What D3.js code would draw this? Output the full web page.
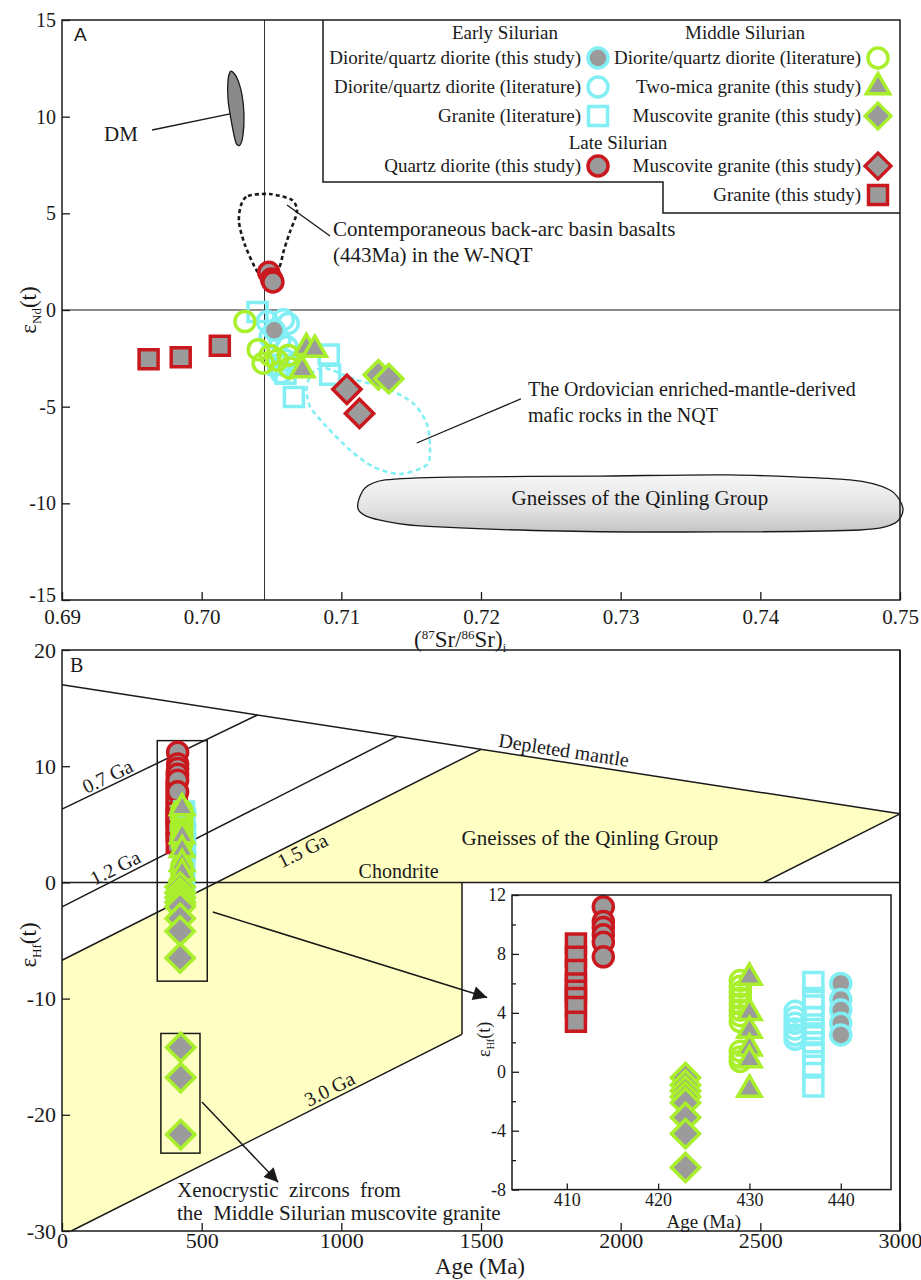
<!DOCTYPE html>
<html>
<head>
<meta charset="utf-8">
<script src="https://cdn.jsdelivr.net/npm/d3@7/dist/d3.min.js"></script>
<style>
  html, body { margin: 0; padding: 0; background: #fff; }
  svg { display: block; }
  svg text { font-family: "Liberation Serif", "Times New Roman", Times, serif; }
  svg text.sans { font-family: "Liberation Sans", Arial, Helvetica, sans-serif; }
</style>
</head>
<body>
<svg id="chart" width="921" height="1280" xmlns="http://www.w3.org/2000/svg"></svg>
<script>
// ===================== Panel A: (87Sr/86Sr)i vs εNd(t) =====================
const srTicks = [0.69, 0.70, 0.71, 0.72, 0.73, 0.74, 0.75];
const ndTicks = [15, 10, 5, 0, -5, -10, -15];
const bulkEarthSr = 0.7045;

// Early Silurian
const earlyDioriteThisA = [[0.7052, -1.05]];
const earlyDioriteLitA = [[0.7047, -0.6], [0.70585, -0.5], [0.7062, -0.7], [0.7049, -1.4], [0.7056, -1.55], [0.7061, -1.9], [0.7060, -2.6], [0.7057, -3.25]];
const earlyGraniteLitA = [[0.7040, -0.1], [0.7091, -2.3], [0.7092, -3.35], [0.7066, -4.5], [0.7060, -3.3], [0.7055, -2.85]];
// Middle Silurian
const midDioriteLitA = [[0.7031, -0.6], [0.70405, -2.05], [0.7044, -2.75], [0.7049, -2.35], [0.7054, -2.6], [0.7062, -2.35], [0.7063, -3.0]];
const midTwoMicaA = [[0.7075, -1.95], [0.7081, -2.05], [0.7072, -3.1]];
const midMuscoviteA = [[0.71265, -3.35], [0.7134, -3.55]];
// Late Silurian
const lateDioriteA = [[0.7048, 1.95], [0.7050, 1.6], [0.7051, 1.45]];
const lateMuscoviteA = [[0.7104, -4.1], [0.7113, -5.35]];
const lateGraniteA = [[0.6962, -2.55], [0.6985, -2.45], [0.7013, -1.85]];

// reference fields
const dmFieldA = [[0.70210, 12.36], [0.70253, 12.0], [0.70289, 11.12], [0.70303, 10.09], [0.70296, 9.05], [0.70274, 8.53], [0.70246, 8.64], [0.70217, 9.57], [0.70189, 10.86], [0.70189, 11.90]];
const backArcBasaltA = [[0.70282, 5.43], [0.70332, 5.90], [0.70489, 6.0], [0.70647, 5.69], [0.70682, 5.07], [0.70632, 4.04], [0.70589, 3.10], [0.70554, 2.17], [0.70475, 1.55], [0.70396, 2.02], [0.70310, 3.36], [0.70267, 4.55]];
const ordovicianMaficA = [[0.70895, -3.02], [0.71110, -3.62], [0.71325, -4.05], [0.71515, -4.83], [0.71611, -5.86], [0.71635, -7.07], [0.71611, -8.02], [0.71420, -8.48], [0.71229, -8.11], [0.71062, -7.24], [0.70895, -6.04], [0.70776, -5.00], [0.70752, -3.97], [0.70799, -3.19]];
const qinlingGneissA = [[0.71119, -9.98], [0.71169, -9.21], [0.71313, -8.79], [0.71778, -8.64], [0.72852, -8.59], [0.73783, -8.53], [0.74642, -8.79], [0.74928, -9.31], [0.75021, -10.24], [0.74964, -11.02], [0.74714, -11.38], [0.73711, -11.48], [0.72566, -11.43], [0.71563, -11.17], [0.71241, -10.81], [0.71134, -10.45]];

// ===================== Panel B: Age vs εHf(t) =====================
const ageTicks = [0, 500, 1000, 1500, 2000, 2500, 3000];
const hfTicks = [20, 10, 0, -10, -20, -30];
const depletedMantle = [[0, 17], [3000, 5.9]];
const crust07 = [[0, 6.3], [700, 14.41]];
const crust12 = [[0, -2.1], [1200, 12.56]];
const crust15 = [[0, -6.7], [1500, 11.45]];
const crust30 = [[33, -30], [3000, 5.9]];
const qinlingGneissB = [[0, -6.7], [1500, 11.45], [3000, 5.9], [33, -30], [0, -30]];
const zirconBox = [[341, 12.2], [520, -8.5]];
const xenoBox = [[354, -13.0], [494, -23.3]];
const insetLeftAge = 1432;

// zircon εHf(t) by group: crystallisation age (Ma) and values
const lateGraniteAge = 411;
const lateGraniteHf = [8.7, 7.8, 6.9, 6.0, 5.5, 5.0, 4.4, 3.4];
const lateDioriteAge = 414;
const lateDioriteHf = [11.2, 10.2, 9.8, 9.3, 8.8, 7.8];
const midMuscoviteAge = 423;
const midMuscoviteHf = [-0.4, -0.9, -1.3, -1.7, -2.1, -3.1, -4.2, -6.5];
const midDioriteLitAge = 429;
const midDioriteLitHf = [6.2, 5.8, 5.4, 5.0, 4.6, 4.2, 3.8, 3.4, 1.4, 1.0, 0.7];
const midTwoMicaAge = 430;
const midTwoMicaHf = [6.4, 4.0, 2.8, 1.6, 0.8, -1.2];
const earlyDioriteLitAge = 435;
const earlyDioriteLitHf = [4.1, 3.7, 3.3, 2.9, 2.5, 2.2];
const earlyGraniteLitAge = 437;
const earlyGraniteLitHf = [6.1, 5.0, 4.5, 3.7, 2.9, 2.6, 2.0, 1.2, 0.4, -1.0];
const earlyDioriteThisAge = 440;
const earlyDioriteThisHf = [6.0, 4.9, 4.2, 3.3, 2.5];
const xenocrystAge = 425;
const xenocrystHf = [-14.2, -16.8, -21.7];

// inset axes
const insetAgeTicks = [410, 420, 430, 440];
const insetHfTicks = [12, 8, 4, 0, -4, -8];

// ===================== drawing =====================
const INK = "#1a1a1a";
const COL = { cyan: "#82eff5", green: "#a9ef2b", red: "#c9191f", gray: "#9b9b9b", gneiss: "#ffffc4" };

const svg = d3.select("#chart");
const defs = svg.append("defs");
const grad = defs.append("linearGradient").attr("id", "gneissShade").attr("x1", 0).attr("y1", 0).attr("x2", 0).attr("y2", 1);
grad.append("stop").attr("offset", "0%").attr("stop-color", "#f7f7f7");
grad.append("stop").attr("offset", "60%").attr("stop-color", "#e2e2e2");
grad.append("stop").attr("offset", "100%").attr("stop-color", "#c4c4c4");
defs.append("marker").attr("id", "arrowHead").attr("viewBox", "0 0 10 10")
  .attr("refX", 10).attr("refY", 5).attr("markerWidth", 19).attr("markerHeight", 14)
  .attr("markerUnits", "userSpaceOnUse").attr("orient", "auto")
  .append("path").attr("d", "M0,0L10,5L0,10z").attr("fill", INK);

const SYM = {
  circle: d3.symbol().type(d3.symbolCircle).size(Math.PI * 100)(),
  square: d3.symbol().type(d3.symbolSquare).size(361)(),
  diamond: d3.symbol().type(d3.symbolSquare).size(400)(),
  triangle: d3.symbol().type(d3.symbolTriangle).size(235)()
};
function plotSymbols(g, pts, sx, sy, shape, stroke, fill) {
  g.append("g").selectAll("path").data(pts).join("path")
    .attr("d", SYM[shape])
    .attr("transform", d => `translate(${sx(d[0])},${sy(d[1])})` + (shape === "diamond" ? " rotate(45)" : ""))
    .attr("fill", fill).attr("stroke", stroke).attr("stroke-width", 3.5);
}
function styleAxis(g, size) {
  g.attr("font-family", null).attr("font-size", size);
  g.select(".domain").remove();
  g.selectAll(".tick line").attr("stroke", INK).attr("stroke-width", 1.3);
  g.selectAll(".tick text").attr("fill", INK).style("font-size", size + "px");
}
function txt(g, x, y, s, size, anchor, cls) {
  return g.append("text").attr("class", cls || null).attr("x", x).attr("y", y)
    .attr("font-size", size).attr("text-anchor", anchor || "start").attr("fill", INK)
    .style("white-space", "pre").text(s);
}

// ---------- Panel A ----------
const xA = d3.scaleLinear().domain([0.69, 0.75]).range([62, 900]);
const yA = d3.scaleLinear().domain([-15, 15]).range([600, 20]);
const gA = svg.append("g");
const closedA = d3.line().x(d => xA(d[0])).y(d => yA(d[1])).curve(d3.curveCardinalClosed.tension(0.2));

gA.append("line").attr("x1", xA(0.69)).attr("x2", xA(0.75)).attr("y1", yA(0)).attr("y2", yA(0)).attr("stroke", INK).attr("stroke-width", 1.2);
gA.append("line").attr("x1", xA(bulkEarthSr)).attr("x2", xA(bulkEarthSr)).attr("y1", yA(15)).attr("y2", yA(-15)).attr("stroke", "#333").attr("stroke-width", 1);

gA.append("path").attr("d", closedA(qinlingGneissA)).attr("fill", "url(#gneissShade)").attr("stroke", INK).attr("stroke-width", 1.3);
gA.append("path").attr("d", closedA(dmFieldA)).attr("fill", "#8a8a8a").attr("stroke", INK).attr("stroke-width", 1.3);
gA.append("path").attr("d", closedA(backArcBasaltA)).attr("fill", "none").attr("stroke", INK).attr("stroke-width", 2.6).attr("stroke-dasharray", "4,3");
gA.append("path").attr("d", closedA(ordovicianMaficA)).attr("fill", "none").attr("stroke", COL.cyan).attr("stroke-width", 2.6).attr("stroke-dasharray", "5,3.5");

// leader lines and field labels
const leader = (g, a, b, sx, sy) => g.append("line").attr("x1", sx(a[0])).attr("y1", sy(a[1])).attr("x2", sx(b[0])).attr("y2", sy(b[1])).attr("stroke", INK).attr("stroke-width", 1.3);
leader(gA, [0.69645, 9.31], [0.70203, 10.14], xA, yA);
leader(gA, [0.70611, 5.43], [0.70919, 3.83], xA, yA);
leader(gA, [0.71540, -6.88], [0.72285, -4.60], xA, yA);
txt(gA, 104, 141, "DM", 21);
txt(gA, 333, 236, "Contemporaneous back-arc basin basalts", 21);
txt(gA, 333, 262, "(443Ma) in the W-NQT", 21);
txt(gA, 528, 396, "The Ordovician enriched-mantle-derived", 20);
txt(gA, 528, 422, "mafic rocks in the NQT", 20);
txt(gA, xA(0.73138), 505, "Gneisses of the Qinling Group", 21, "middle");

// data points, A
plotSymbols(gA, earlyGraniteLitA, xA, yA, "square", COL.cyan, "none");
plotSymbols(gA, earlyDioriteLitA, xA, yA, "circle", COL.cyan, "none");
plotSymbols(gA, midDioriteLitA, xA, yA, "circle", COL.green, "none");
plotSymbols(gA, earlyDioriteThisA, xA, yA, "circle", COL.cyan, COL.gray);
plotSymbols(gA, midTwoMicaA, xA, yA, "triangle", COL.green, COL.gray);
plotSymbols(gA, midMuscoviteA, xA, yA, "diamond", COL.green, COL.gray);
plotSymbols(gA, lateMuscoviteA, xA, yA, "diamond", COL.red, COL.gray);
plotSymbols(gA, lateGraniteA, xA, yA, "square", COL.red, COL.gray);
plotSymbols(gA, lateDioriteA, xA, yA, "circle", COL.red, COL.gray);

// legend (L-shaped box)
const gL = svg.append("g");
gL.append("path").attr("d", "M323,20V182H663V213H900").attr("fill", "none").attr("stroke", INK).attr("stroke-width", 1.5);
txt(gL, 505, 39, "Early Silurian", 19, "middle");
txt(gL, 745, 39, "Middle Silurian", 19, "middle");
txt(gL, 618, 149, "Late Silurian", 19, "middle");
const legendRows = [
  { x: 598, y: 58, label: "Diorite/quartz diorite (this study)", shape: "circle", stroke: COL.cyan, fill: COL.gray },
  { x: 598, y: 87, label: "Diorite/quartz diorite (literature)", shape: "circle", stroke: COL.cyan, fill: "none" },
  { x: 598, y: 116, label: "Granite (literature)", shape: "square", stroke: COL.cyan, fill: "none" },
  { x: 598, y: 166, label: "Quartz diorite (this study)", shape: "circle", stroke: COL.red, fill: COL.gray },
  { x: 878, y: 58, label: "Diorite/quartz diorite (literature)", shape: "circle", stroke: COL.green, fill: "none" },
  { x: 878, y: 87, label: "Two-mica granite (this study)", shape: "triangle", stroke: COL.green, fill: COL.gray },
  { x: 878, y: 116, label: "Muscovite granite (this study)", shape: "diamond", stroke: COL.green, fill: COL.gray },
  { x: 878, y: 166, label: "Muscovite granite (this study)", shape: "diamond", stroke: COL.red, fill: COL.gray },
  { x: 878, y: 195, label: "Granite (this study)", shape: "square", stroke: COL.red, fill: COL.gray }
];
legendRows.forEach(r => {
  txt(gL, r.x - 17, r.y + 6, r.label, 19, "end");
  gL.append("path").attr("d", SYM[r.shape])
    .attr("transform", `translate(${r.x},${r.y})` + (r.shape === "diamond" ? " rotate(45) scale(0.92)" : ""))
    .attr("fill", r.fill).attr("stroke", r.stroke).attr("stroke-width", 3.5);
});

// axes, A
gA.append("g").attr("transform", "translate(0,600)")
  .call(d3.axisBottom(xA).tickValues(srTicks).tickFormat(d3.format(".2f")).tickSize(-8).tickPadding(9))
  .call(styleAxis, 21);
const yAxisA = gA.append("g").attr("transform", "translate(62,0)")
  .call(d3.axisLeft(yA).tickValues(ndTicks).tickFormat(d => String(d)).tickSize(-8).tickPadding(6))
  .call(styleAxis, 20);
// lowest label sits just above the corner so it clears the x-axis labels
yAxisA.selectAll(".tick text").filter(d => d === -15).attr("dy", "0.05em");
gA.append("rect").attr("x", 62).attr("y", 20).attr("width", 838).attr("height", 580).attr("fill", "none").attr("stroke", INK).attr("stroke-width", 1.5);
txt(gA, 74, 41, "A", 19, "start", "sans");

const tA = gA.append("text").attr("x", 460).attr("y", 647).attr("text-anchor", "middle").attr("font-size", 23).attr("fill", INK);
tA.append("tspan").text("(");
tA.append("tspan").attr("font-size", 13).attr("dy", -8).text("87");
tA.append("tspan").attr("dy", 8).text("Sr/");
tA.append("tspan").attr("font-size", 13).attr("dy", -8).text("86");
tA.append("tspan").attr("dy", 8).text("Sr)");
tA.append("tspan").attr("font-size", 12).attr("dy", 5).text("i");

const yLabA = gA.append("text").attr("transform", "translate(36,310) rotate(-90)").attr("text-anchor", "middle").attr("font-size", 23).attr("fill", INK);
yLabA.append("tspan").text("ε");
yLabA.append("tspan").attr("font-size", 13).attr("dy", 5).text("Nd");
yLabA.append("tspan").attr("dy", -5).text("(t)");

// ---------- Panel B ----------
const xB = d3.scaleLinear().domain([0, 3000]).range([62, 900]);
const yB = d3.scaleLinear().domain([-30, 20]).range([1231, 650]);
const gB = svg.append("g");
const lineB = d3.line().x(d => xB(d[0])).y(d => yB(d[1]));

gB.append("path").attr("d", lineB(qinlingGneissB) + "Z").attr("fill", COL.gneiss).attr("stroke", "none");
[depletedMantle, crust07, crust12, crust15, crust30].forEach(seg =>
  gB.append("path").attr("d", lineB(seg)).attr("fill", "none").attr("stroke", INK).attr("stroke-width", 1.5));

// inset background covers the field beneath it
const crust30At = d3.scaleLinear().domain(crust30.map(d => d[0])).range(crust30.map(d => d[1]));
gB.append("rect").attr("x", xB(insetLeftAge)).attr("y", yB(0)).attr("width", 902 - xB(insetLeftAge)).attr("height", 1196 - yB(0)).attr("fill", "#fff");
gB.append("path").attr("d", lineB([[insetLeftAge, 0], [insetLeftAge, crust30At(insetLeftAge)]])).attr("stroke", INK).attr("stroke-width", 1.5);
gB.append("line").attr("x1", xB(0)).attr("x2", xB(3000)).attr("y1", yB(0)).attr("y2", yB(0)).attr("stroke", INK).attr("stroke-width", 1.5);

function labelOnLine(seg, age, s, off, size) {
  const v = d3.scaleLinear().domain([seg[0][0], seg[1][0]]).range([seg[0][1], seg[1][1]])(age);
  const ang = Math.atan2(yB(seg[1][1]) - yB(seg[0][1]), xB(seg[1][0]) - xB(seg[0][0])) * 180 / Math.PI;
  gB.append("text").attr("transform", `translate(${xB(age)},${yB(v)}) rotate(${ang})`).attr("y", off)
    .attr("text-anchor", "middle").attr("font-size", size).attr("fill", INK).text(s);
}
labelOnLine(crust07, 178, "0.7 Ga", -3, 20);
labelOnLine(crust12, 208, "1.2 Ga", -4, 20);
labelOnLine(crust15, 845, "1.5 Ga", 17, 20);
labelOnLine(crust30, 975, "3.0 Ga", -4, 20);
labelOnLine(depletedMantle, 1790, "Depleted mantle", -5, 20);
txt(gB, xB(1205), yB(0.35), "Chondrite", 20, "middle");
txt(gB, xB(1890), 845, "Gneisses of the Qinling Group", 21, "middle");

// grouping boxes
[zirconBox, xenoBox].forEach(b => gB.append("rect")
  .attr("x", xB(b[0][0])).attr("y", yB(b[0][1]))
  .attr("width", xB(b[1][0]) - xB(b[0][0])).attr("height", yB(b[1][1]) - yB(b[0][1]))
  .attr("fill", "none").attr("stroke", INK).attr("stroke-width", 1.5));

const pairs = (age, vals) => vals.map(v => [age, v]);
plotSymbols(gB, pairs(lateGraniteAge, lateGraniteHf), xB, yB, "square", COL.red, COL.gray);
plotSymbols(gB, pairs(lateDioriteAge, lateDioriteHf), xB, yB, "circle", COL.red, COL.gray);
plotSymbols(gB, pairs(earlyDioriteLitAge, earlyDioriteLitHf), xB, yB, "circle", COL.cyan, "none");
plotSymbols(gB, pairs(earlyGraniteLitAge, earlyGraniteLitHf), xB, yB, "square", COL.cyan, "none");
plotSymbols(gB, pairs(earlyDioriteThisAge, earlyDioriteThisHf), xB, yB, "circle", COL.cyan, COL.gray);
plotSymbols(gB, pairs(midDioriteLitAge, midDioriteLitHf), xB, yB, "circle", COL.green, "none");
plotSymbols(gB, pairs(midTwoMicaAge, midTwoMicaHf), xB, yB, "triangle", COL.green, COL.gray);
plotSymbols(gB, pairs(midMuscoviteAge, midMuscoviteHf), xB, yB, "diamond", COL.green, COL.gray);
plotSymbols(gB, pairs(xenocrystAge, xenocrystHf), xB, yB, "diamond", COL.green, COL.gray);

// arrows
const arrow = (a, b) => gB.append("line").attr("x1", xB(a[0])).attr("y1", yB(a[1])).attr("x2", xB(b[0])).attr("y2", yB(b[1]))
  .attr("stroke", INK).attr("stroke-width", 1.5).attr("marker-end", "url(#arrowHead)");
arrow([540, -2.55], [1522, -9.9]);
arrow([501, -18.9], [774, -25.8]);
txt(gB, 177, 1197, "Xenocrystic  zircons  from", 21);
txt(gB, 177, 1220, "the  Middle Silurian muscovite granite", 21);

// axes, B
gB.append("g").attr("transform", "translate(0,1231)")
  .call(d3.axisBottom(xB).tickValues(ageTicks).tickFormat(d => String(d)).tickSize(-8).tickPadding(1))
  .call(styleAxis, 22);
gB.append("g").attr("transform", "translate(62,0)")
  .call(d3.axisLeft(yB).tickValues(hfTicks).tickFormat(d => String(d)).tickSize(-8).tickPadding(6))
  .call(styleAxis, 22);
gB.append("rect").attr("x", 62).attr("y", 650).attr("width", 838).attr("height", 581).attr("fill", "none").attr("stroke", INK).attr("stroke-width", 1.5);
txt(gB, 70, 672, "B", 20);
txt(gB, 480, 1274, "Age (Ma)", 23, "middle");
const yLabB = gB.append("text").attr("transform", "translate(36,945) rotate(-90)").attr("text-anchor", "middle").attr("font-size", 23).attr("fill", INK);
yLabB.append("tspan").text("ε");
yLabB.append("tspan").attr("font-size", 13).attr("dy", 5).text("Hf");
yLabB.append("tspan").attr("dy", -5).text("(t)");

// ---------- Inset: εHf(t) vs crystallisation age ----------
const xI = d3.scaleLinear().domain([404, 445.5]).range([512, 891]);
const yI = d3.scaleLinear().domain([-8, 12]).range([1189.6, 895]);
const gI = svg.append("g");
plotSymbols(gI, pairs(lateGraniteAge, lateGraniteHf), xI, yI, "square", COL.red, COL.gray);
plotSymbols(gI, pairs(lateDioriteAge, lateDioriteHf), xI, yI, "circle", COL.red, COL.gray);
plotSymbols(gI, pairs(earlyDioriteLitAge, earlyDioriteLitHf), xI, yI, "circle", COL.cyan, "none");
plotSymbols(gI, pairs(earlyGraniteLitAge, earlyGraniteLitHf), xI, yI, "square", COL.cyan, "none");
plotSymbols(gI, pairs(earlyDioriteThisAge, earlyDioriteThisHf), xI, yI, "circle", COL.cyan, COL.gray);
plotSymbols(gI, pairs(midDioriteLitAge, midDioriteLitHf), xI, yI, "circle", COL.green, "none");
plotSymbols(gI, pairs(midTwoMicaAge, midTwoMicaHf), xI, yI, "triangle", COL.green, COL.gray);
plotSymbols(gI, pairs(midMuscoviteAge, midMuscoviteHf), xI, yI, "diamond", COL.green, COL.gray);

gI.append("g").attr("transform", `translate(0,${yI(-8)})`)
  .call(d3.axisBottom(xI).tickValues(insetAgeTicks).tickFormat(d => String(d)).tickSize(-6).tickPadding(4))
  .call(styleAxis, 18);
gI.append("g").attr("transform", `translate(${xI(404)},0)`)
  .call(d3.axisLeft(yI).tickValues(insetHfTicks).tickFormat(d => String(d)).tickSize(-7).tickPadding(6))
  .call(styleAxis, 18);
gI.append("g").attr("transform", `translate(${xI(404)},0)`)
  .call(d3.axisLeft(yI).tickValues([10, 6, 2, -2, -6]).tickFormat("").tickSize(-4))
  .call(styleAxis, 18);
gI.append("rect").attr("x", xI(404)).attr("y", yI(12)).attr("width", xI(445.5) - xI(404)).attr("height", yI(-8) - yI(12))
  .attr("fill", "none").attr("stroke", INK).attr("stroke-width", 1.5);
txt(gI, xI(425), 1228, "Age (Ma)", 19, "middle");
const yLabI = gI.append("text").attr("transform", `translate(${xI(404) - 22},${yI(2.2)}) rotate(-90)`).attr("text-anchor", "middle").attr("font-size", 18).attr("fill", INK);
yLabI.append("tspan").text("ε");
yLabI.append("tspan").attr("font-size", 10).attr("dy", 4).text("Hf");
yLabI.append("tspan").attr("dy", -4).text("(t)");

// right border of panel B redrawn over the inset background
svg.append("line").attr("x1", 900).attr("x2", 900).attr("y1", 650).attr("y2", 1231).attr("stroke", INK).attr("stroke-width", 1.5);
</script>
</body>
</html>
